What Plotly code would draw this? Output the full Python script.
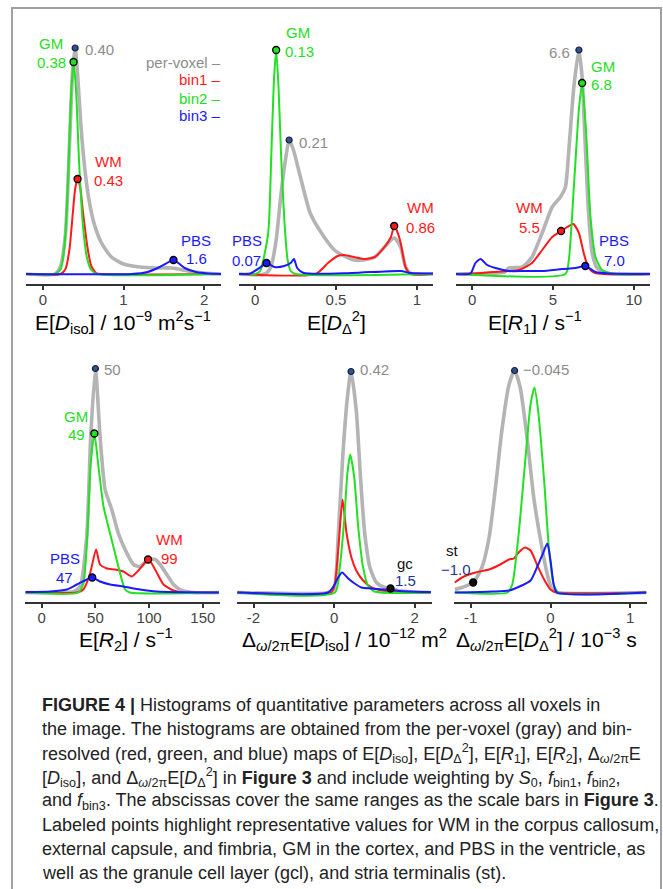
import plotly.graph_objects as go

W, H = 663, 889

# ---------------- data (heights in arbitrary histogram units) ----------------
# Panel 1: E[Diso]
p1_gray_x = [-0.21, 0.15, 0.22, 0.28, 0.33, 0.37, 0.40, 0.43, 0.47, 0.52, 0.57, 0.63, 0.72, 0.85, 1.0, 1.2, 1.4, 1.6, 1.8, 2.0, 2.21]
p1_gray_y = [0, 0, 8, 40, 130, 205, 226, 200, 150, 105, 75, 52, 32, 17, 10, 7, 6, 6, 3, 1, 0]
p1_red_x = [-0.21, 0.22, 0.28, 0.33, 0.37, 0.40, 0.43, 0.46, 0.50, 0.55, 0.60, 0.66, 0.72, 2.21]
p1_red_y = [0, 0, 5, 25, 60, 85, 95, 88, 60, 28, 8, 1, 0, 0]
p1_green_x = [-0.21, 0.15, 0.22, 0.27, 0.31, 0.35, 0.38, 0.41, 0.45, 0.50, 0.55, 0.60, 0.67, 2.21]
p1_green_y = [0, 0, 5, 30, 90, 180, 212, 185, 110, 45, 15, 4, 0, 0]
p1_blue_x = [-0.21, 1.1, 1.3, 1.45, 1.62, 1.68, 1.76, 1.9, 2.05, 2.21]
p1_blue_y = [0, 0, 2, 7, 14, 11, 6, 2, 0.5, 0]

# Panel 2: E[DΔ²]
p2_gray_x = [-0.1, 0.06, 0.097, 0.13, 0.16, 0.19, 0.21, 0.235, 0.28, 0.34, 0.41, 0.49, 0.55, 0.61, 0.67, 0.74, 0.80, 0.86, 0.90, 0.93, 0.96, 1.1]
p2_gray_y = [0, 0, 7, 34, 80, 117, 134, 125, 97, 61, 41, 24, 18, 14, 14, 17, 27, 36, 27, 7, 1, 0]
p2_red_x = [-0.1, 0.375, 0.45, 0.51, 0.55, 0.61, 0.67, 0.74, 0.80, 0.84, 0.86, 0.88, 0.90, 0.93, 0.96, 1.1]
p2_red_y = [0, 0, 11, 18, 19, 17, 15, 17, 27, 37, 48, 42, 31, 7, 0, 0]
p2_green_x = [-0.1, 0.0, 0.03, 0.08, 0.10, 0.115, 0.13, 0.145, 0.16, 0.18, 0.20, 0.22, 0.25, 1.1]
p2_green_y = [0, 0, 3, 40, 120, 190, 224, 185, 120, 55, 15, 3, 0, 0]
p2_blue_x = [-0.1, -0.03, 0.035, 0.07, 0.12, 0.18, 0.22, 0.24, 0.26, 0.30, 0.6, 0.9, 0.96, 1.1]
p2_blue_y = [0, 0.5, 7, 11, 7, 8, 11, 15, 6, 1, 1, 3, 1, 0.5]

# Panel 3: E[R1]
p3_gray_x = [-1, 2.0, 2.27, 3.1, 3.7, 4.33, 4.95, 5.46, 5.77, 5.98, 6.29, 6.6, 6.8, 7.0, 7.2, 7.42, 7.73, 8.25, 11]
p3_gray_y = [0, 2, 6, 7, 17, 41, 67, 77, 87, 124, 187, 224, 197, 127, 61, 21, 6, 1, 0]
p3_red_x = [-1, 0, 1.24, 2.89, 3.7, 4.33, 4.95, 5.5, 5.88, 6.25, 6.6, 6.9, 7.2, 7.6, 11]
p3_red_y = [0, 0.5, 2, 4, 11, 24, 37, 43, 47, 50, 41, 21, 6, 1, 0]
p3_green_x = [-1, 5.77, 5.98, 6.29, 6.6, 6.8, 7.05, 7.32, 7.63, 8.04, 8.87, 11]
p3_green_y = [0, 0, 14, 87, 164, 191, 141, 57, 17, 4, 0, 0]
p3_blue_x = [-1, -0.1, 0.2, 0.52, 0.93, 1.44, 2.27, 3.3, 4.33, 5.57, 6.39, 7.0, 7.63, 8.45, 11]
p3_blue_y = [0, 0.5, 11, 15, 9, 6, 3, 3, 3, 5, 6, 8, 2, 0.5, 0]

# Panel 4: E[R2]
p4_gray_x = [-15, 30, 35.7, 41.9, 45.6, 50, 54.3, 59, 65.2, 71.4, 77.6, 85.4, 91.6, 99.4, 105.6, 110.2, 116.5, 122.7, 130.4, 141, 165]
p4_gray_y = [0, 1, 6, 56, 156, 224, 156, 103, 83, 59, 43, 28, 26, 33, 33, 28, 18, 8, 2, 0, 0]
p4_red_x = [-15, 32.6, 38.8, 45, 50.6, 54.3, 60.6, 68.3, 76, 83.8, 91.6, 99.4, 105.6, 113.4, 122.7, 132, 165]
p4_red_y = [0, 0, 3, 19, 43, 28, 24, 23, 21, 16, 24, 33, 23, 8, 2, 0, 0]
p4_green_x = [-15, 34, 38.8, 42.5, 45.6, 49, 52.8, 57.5, 62, 68.3, 73, 77.6, 82, 165]
p4_green_y = [0, 0, 9, 59, 129, 159, 126, 86, 66, 39, 19, 3, 0, 0]
p4_blue_x = [-15, 7.8, 23.3, 32.6, 42, 47, 54.3, 63.7, 76, 91.6, 107, 132, 165]
p4_blue_y = [0.5, 1, 3, 8, 13, 15, 11, 8, 6, 3, 1, 0.3, 0]

# Panel 5: Δω/2π E[Diso]
p5_gray_x = [-2.4, -0.15, 0, 0.1, 0.22, 0.33, 0.42, 0.55, 0.66, 0.76, 0.89, 1.05, 1.26, 1.4, 1.59, 1.84, 2.4]
p5_gray_y = [0, 0, 4, 55, 139, 195, 221, 182, 112, 59, 25, 10, 5, 4, 2, 1, 0]
p5_red_x = [-2.4, -0.07, 0.02, 0.12, 0.21, 0.31, 0.43, 0.55, 0.72, 0.93, 1.18, 1.5, 2.4]
p5_red_y = [0, 0, 9, 52, 93, 59, 35, 22, 12, 5, 2, 0.5, 0]
p5_green_x = [-2.4, 0.02, 0.14, 0.25, 0.33, 0.40, 0.5, 0.6, 0.72, 0.84, 1.0, 2.4]
p5_green_y = [0, 0, 25, 72, 119, 138, 115, 65, 25, 7, 1, 0]
p5_blue_x = [-2.4, -0.15, 0, 0.1, 0.2, 0.35, 0.51, 0.68, 0.93, 1.26, 1.6, 2.17, 2.4]
p5_blue_y = [0, 0, 7, 15, 20, 14, 9, 5, 4, 3, 1.5, 0.5, 0.5]

# Panel 6: Δω/2π E[DΔ²]
p6_gray_x = [-1.2, -1.11, -0.97, -0.86, -0.77, -0.69, -0.61, -0.52, -0.45, -0.38, -0.29, -0.21, -0.13, -0.04, 0.02, 0.08, 1.2]
p6_gray_y = [3, 5, 10, 25, 55, 105, 162, 208, 222, 205, 152, 95, 55, 18, 3, 0, 0]
p6_red_x = [-1.2, -1.11, -0.94, -0.77, -0.63, -0.52, -0.46, -0.40, -0.32, -0.25, -0.17, -0.08, 0.0, 0.08, 1.2]
p6_red_y = [10, 15, 20, 23, 28, 33, 34, 40, 45, 42, 28, 13, 3, 0, 0]
p6_green_x = [-1.2, -0.54, -0.48, -0.4, -0.31, -0.25, -0.2, -0.15, -0.08, -0.02, 0.04, 0.1, 1.2]
p6_green_y = [0, 0, 8, 58, 138, 188, 205, 178, 112, 45, 8, 0, 0]
p6_blue_x = [-1.2, -0.73, -0.52, -0.36, -0.25, -0.17, -0.1, -0.04, 0.0, 0.04, 0.08, 1.2]
p6_blue_y = [0, 1, 2, 7, 12, 25, 38, 49, 32, 8, 0, 0]

# labelled points: (x, height, kind)
p1_points = [(0.40, 226, "peak"), (0.38, 212, "GM"), (0.43, 95, "WM"), (1.62, 14, "PBS")]
p2_points = [(0.21, 134, "peak"), (0.13, 224, "GM"), (0.86, 48, "WM"), (0.07, 11, "PBS")]
p3_points = [(6.6, 224, "peak"), (6.8, 191, "GM"), (5.5, 43, "WM"), (7.0, 8, "PBS")]
p4_points = [(50, 224, "peak"), (49, 159, "GM"), (99, 33, "WM"), (47, 15, "PBS")]
p5_points = [(0.42, 221, "peak"), (1.4, 4, "other")]
p6_points = [(-0.45, 222, "peak"), (-0.97, 10, "other")]

x_ranges = [[-0.21, 2.21], [-0.1, 1.1], [-1.0, 11.0], [-15.6, 166], [-2.41, 2.43], [-1.21, 1.21]]
x_ticks = [[0, 1, 2], [0, 0.5, 1], [0, 5, 10], [0, 50, 100, 150], [-2, 0, 2], [-1, 0, 1]]
x_ticktext = [["0", "1", "2"], ["0", "0.5", "1"], ["0", "5", "10"], ["0", "50", "100", "150"],
              ["-2", "0", "2"], ["-1", "0", "1"]]
axis_titles = [
    "E[<i>D</i><sub>iso</sub>] / 10<sup>−9</sup> m<sup>2</sup>s<sup>−1</sup>",
    "E[<i>D</i><sub>Δ</sub><sup>2</sup>]",
    "E[<i>R</i><sub>1</sub>] / s<sup>−1</sup>",
    "E[<i>R</i><sub>2</sub>] / s<sup>−1</sup>",
    "Δ<sub><i>ω</i>/2π</sub>E[<i>D</i><sub>iso</sub>] / 10<sup>−12</sup> m<sup>2</sup>",
    "Δ<sub><i>ω</i>/2π</sub>E[<i>D</i><sub>Δ</sub><sup>2</sup>] / 10<sup>−3</sup> s",
]
legend_names = ["per-voxel", "bin1", "bin2", "bin3"]

caption_lines = [
    "<b>FIGURE 4 |</b> Histograms of quantitative parameters across all voxels in",
    "the image. The histograms are obtained from the per-voxel (gray) and bin-",
    "resolved (red, green, and blue) maps of E[<i>D</i><sub>iso</sub>], E[<i>D</i><sub>Δ</sub><sup>2</sup>], E[<i>R</i><sub>1</sub>], E[<i>R</i><sub>2</sub>], Δ<sub><i>ω</i>/2π</sub>E",
    "[<i>D</i><sub>iso</sub>], and Δ<sub><i>ω</i>/2π</sub>E[<i>D</i><sub>Δ</sub><sup>2</sup>] in <b>Figure 3</b> and include weighting by <i>S</i><sub>0</sub>, <i>f</i><sub>bin1</sub>, <i>f</i><sub>bin2</sub>,",
    "and <i>f</i><sub>bin3</sub>. The abscissas cover the same ranges as the scale bars in <b>Figure 3</b>.",
    "Labeled points highlight representative values for WM in the corpus callosum,",
    "external capsule, and fimbria, GM in the cortex, and PBS in the ventricle, as",
    "well as the granule cell layer (gcl), and stria terminalis (st).",
]

# ---------------- styling / layout ----------------
GRAY, RED, GREEN, BLUE = "#b4b4b4", "#ff1a1a", "#22e022", "#1a1aff"
GRAYTXT, NAVY = "#8c8c8c", "#1f3592"
FONT = "Liberation Sans, Arial, sans-serif"


def px(x):
    return x / W


def py(y):
    return 1 - y / H


cols = [[(26, 221), (239, 433), (456, 650)], [(25, 220), (237, 432), (454, 647)]]
rows = [(20, 284), (338, 602)]
y_ranges = [[-10, 254], [-9.5, 254.5]]

panels = [
    (p1_gray_x, p1_gray_y, p1_red_x, p1_red_y, p1_green_x, p1_green_y, p1_blue_x, p1_blue_y, p1_points),
    (p2_gray_x, p2_gray_y, p2_red_x, p2_red_y, p2_green_x, p2_green_y, p2_blue_x, p2_blue_y, p2_points),
    (p3_gray_x, p3_gray_y, p3_red_x, p3_red_y, p3_green_x, p3_green_y, p3_blue_x, p3_blue_y, p3_points),
    (p4_gray_x, p4_gray_y, p4_red_x, p4_red_y, p4_green_x, p4_green_y, p4_blue_x, p4_blue_y, p4_points),
    (p5_gray_x, p5_gray_y, p5_red_x, p5_red_y, p5_green_x, p5_green_y, p5_blue_x, p5_blue_y, p5_points),
    (p6_gray_x, p6_gray_y, p6_red_x, p6_red_y, p6_green_x, p6_green_y, p6_blue_x, p6_blue_y, p6_points),
]

fig = go.Figure()
layout = dict(width=W, height=H, margin=dict(l=0, r=0, t=0, b=0), paper_bgcolor="white",
              plot_bgcolor="rgba(0,0,0,0)", showlegend=False, font=dict(family=FONT))

marker_style = {
    "peak": dict(color="#34508c", size=6, line=dict(color="#15203f", width=1.2)),
    "GM": dict(color=GREEN, size=7, line=dict(color="black", width=1.3)),
    "WM": dict(color=RED, size=7, line=dict(color="black", width=1.3)),
    "PBS": dict(color=BLUE, size=7, line=dict(color="black", width=1.3)),
    "other": dict(color="#111111", size=7, line=dict(color="black", width=1.3)),
}

for i, (gx, gy, rx, ry, grx, gry, bx, by, pts) in enumerate(panels):
    r, c = divmod(i, 3)
    n = "" if i == 0 else str(i + 1)
    xa, ya = "x" + n, "y" + n
    for (xs, ys, col, wd) in [(gx, gy, GRAY, 3.6), (rx, ry, RED, 2), (grx, gry, GREEN, 2), (bx, by, BLUE, 2)]:
        fig.add_trace(go.Scatter(x=xs, y=ys, mode="lines", xaxis=xa, yaxis=ya,
                                 line=dict(color=col, width=wd, shape="spline", smoothing=0.6),
                                 hoverinfo="skip"))
    for (mx, my, kind) in pts:
        fig.add_trace(go.Scatter(x=[mx], y=[my], mode="markers", xaxis=xa, yaxis=ya,
                                 marker=marker_style[kind], hoverinfo="skip"))
    d0, d1 = cols[r][c]
    t0, t1 = rows[r]
    layout["xaxis" + n] = dict(domain=[px(d0), px(d1)], range=x_ranges[i], anchor=ya,
                               showgrid=False, zeroline=False, showline=True, linecolor="#333333",
                               linewidth=2, ticks="outside", ticklen=4, tickwidth=1.5, tickcolor="#333333",
                               tickvals=x_ticks[i], ticktext=x_ticktext[i], ticklabelstandoff=-3,
                               tickfont=dict(size=15, color="#444444", family=FONT))
    layout["yaxis" + n] = dict(domain=[py(t1), py(t0)], range=y_ranges[r], anchor=xa,
                               visible=False, showgrid=False, zeroline=False)

fig.update_layout(**layout)

ann = []


def txt(x, y, s, color, size=15, xanchor="center"):
    ann.append(dict(x=px(x), y=py(y), xref="paper", yref="paper", text=s, showarrow=False,
                    xanchor=xanchor, yanchor="middle", font=dict(size=size, color=color, family=FONT)))


# axis titles
title_pos = [(123, 322), (336, 322), (535, 322), (126, 639), (344, 639), (546, 639)]
for (tx, ty), s in zip(title_pos, axis_titles):
    txt(tx, ty, s, "black", size=21)

# legend (panel 1)
for (name, col, yy) in zip(legend_names, [GRAYTXT, RED, GREEN, BLUE], [62, 80, 98, 116]):
    txt(223, yy, name + " –", col, xanchor="right")

# point labels
txt(83, 49, "0.40", GRAYTXT, xanchor="left")
txt(51, 44, "GM", GREEN); txt(51, 62, "0.38", GREEN)
txt(108, 161, "WM", RED); txt(108, 180, "0.43", RED)
txt(196, 240, "PBS", BLUE); txt(196, 259, "1.6", BLUE)

txt(298, 32, "GM", GREEN); txt(283, 51, "0.13", GREEN, xanchor="left")
txt(297, 142, "0.21", GRAYTXT, xanchor="left")
txt(420, 208, "WM", RED); txt(420, 227, "0.86", RED)
txt(247, 240, "PBS", BLUE); txt(246, 260, "0.07", BLUE)

txt(572, 52, "6.6", GRAYTXT, xanchor="right")
txt(589, 66, "GM", GREEN, xanchor="left"); txt(589, 84, "6.8", GREEN, xanchor="left")
txt(529, 208, "WM", RED); txt(529, 228, "5.5", RED)
txt(614, 241, "PBS", BLUE); txt(614, 260, "7.0", BLUE)

txt(102, 369, "50", GRAYTXT, xanchor="left")
txt(76, 417, "GM", GREEN); txt(76, 434, "49", GREEN)
txt(169, 539, "WM", RED); txt(169, 558, "99", RED)
txt(65, 558, "PBS", BLUE); txt(64, 577, "47", BLUE)

txt(358, 370, "0.42", GRAYTXT, xanchor="left")
txt(405, 563, "gc", "#111111"); txt(405, 580, "1.5", NAVY)

txt(521, 369, "−0.045", GRAYTXT, xanchor="left")
txt(452, 550, "st", "#111111"); txt(456, 569, "−1.0", NAVY)

# caption
cap_y0, cap_dy = 705, 24
for k, line in enumerate(caption_lines):
    ann.append(dict(x=px(40), y=py(cap_y0 + k * cap_dy), xref="paper", yref="paper", text=line,
                    showarrow=False, xanchor="left", yanchor="middle",
                    font=dict(size=18, color="#222222", family=FONT)))

fig.update_layout(annotations=ann)

# outer frame (open at the bottom, as cropped)
fig.add_shape(type="path", xref="paper", yref="paper",
              path=f"M {px(12)} {py(900)} L {px(12)} {py(8)} L {px(661)} {py(8)} L {px(661)} {py(900)}",
              line=dict(color="#a0a0a0", width=2))

# the page body has a default 8px margin; remove it so the figure fills the window
fig.write_html("out.html", config={"displayModeBar": False},
               post_script="document.body.style.margin='0px';")
